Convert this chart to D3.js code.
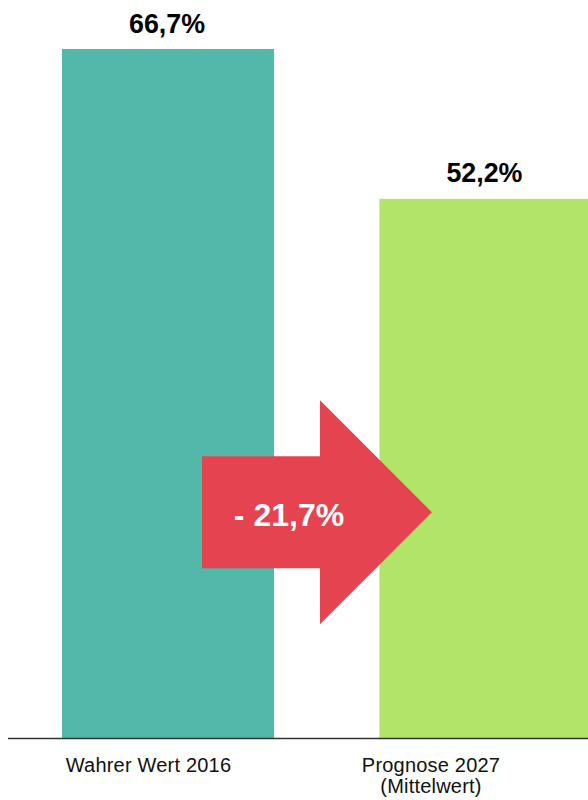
<!DOCTYPE html>
<html>
<head>
<meta charset="utf-8">
<script src="https://cdn.jsdelivr.net/npm/d3@7"></script>
<style>
  body { margin: 0; background: #fff; }
  svg { display: block; font-family: "Liberation Sans", Arial, sans-serif; }
</style>
</head>
<body>
<svg id="chart"></svg>
<script>
// --- data ---
const categories = ["Wahrer Wert 2016", "Prognose 2027"];
const categoryLines = [["Wahrer Wert 2016"], ["Prognose 2027", "(Mittelwert)"]];
const values = [66.7, 52.2];
const valueLabels = ["66,7%", "52,2%"];
const changeValue = 21.7;
const changeLabel = "- 21,7%";

// --- setup ---
const width = 588;
const height = 800;
const baseline = 738;

const barColors = ["#52b9aa", "#b2e46a"];
const arrowColor = "#e64351";

const svg = d3.select("#chart")
    .attr("width", width)
    .attr("height", height);

const x = d3.scaleBand()
    .domain(categories)
    .range([62, 591.5])
    .paddingInner(0.332)
    .paddingOuter(0);

// labels under the axis sit a bit left of the bars
const xLabel = d3.scalePoint()
    .domain(categories)
    .range([148.5, 431]);

const y = d3.scaleLinear()
    .domain([0, 66.7])
    .range([baseline, 49]);

// bars
svg.append("g")
    .selectAll("rect")
    .data(values)
    .enter()
    .append("rect")
    .attr("x", (d, i) => x(categories[i]))
    .attr("y", d => y(d))
    .attr("width", x.bandwidth())
    .attr("height", d => baseline - y(d))
    .attr("fill", (d, i) => barColors[i]);

// value labels
svg.append("g")
    .selectAll("text")
    .data(values)
    .enter()
    .append("text")
    .attr("x", (d, i) => x(categories[i]) + x.bandwidth() / 2 - 1)
    .attr("y", d => y(d) - 16.5)
    .attr("text-anchor", "middle")
    .attr("font-size", 26.8)
    .attr("font-weight", "bold")
    .attr("fill", "#000")
    .text((d, i) => valueLabels[i]);

// axis line
svg.append("line")
    .attr("x1", 8).attr("x2", width)
    .attr("y1", baseline + 0.5).attr("y2", baseline + 0.5)
    .attr("stroke", "#333")
    .attr("stroke-width", 1.3);

// category labels
const catG = svg.append("g")
    .selectAll("text")
    .data(categories)
    .enter()
    .append("text")
    .attr("x", d => xLabel(d))
    .attr("y", 772)
    .attr("text-anchor", "middle")
    .attr("font-size", 20)
    .attr("letter-spacing", 0.2)
    .attr("fill", "#111");

catG.each(function(d, i) {
    const t = d3.select(this);
    categoryLines[i].forEach((line, j) => {
        t.append("tspan")
            .attr("x", xLabel(d))
            .attr("dy", j === 0 ? 0 : 20.5)
            .text(line);
    });
});

// arrow showing the change
const cy = y(changeValue) - 1.5;
const shaft = { x0: 202, x1: 320, half: 56 };
const head = { half: 112, tip: 432 };

const arrowPts = [
    [shaft.x0, cy - shaft.half],
    [shaft.x1, cy - shaft.half],
    [shaft.x1, cy - head.half],
    [head.tip, cy],
    [shaft.x1, cy + head.half],
    [shaft.x1, cy + shaft.half],
    [shaft.x0, cy + shaft.half]
];

svg.append("path")
    .attr("d", d3.line()(arrowPts) + "Z")
    .attr("fill", arrowColor);

svg.append("text")
    .attr("x", 289)
    .attr("y", cy + 13.5)
    .attr("text-anchor", "middle")
    .attr("font-size", 32)
    .attr("font-weight", "bold")
    .attr("fill", "#fff")
    .text(changeLabel);
</script>
</body>
</html>
